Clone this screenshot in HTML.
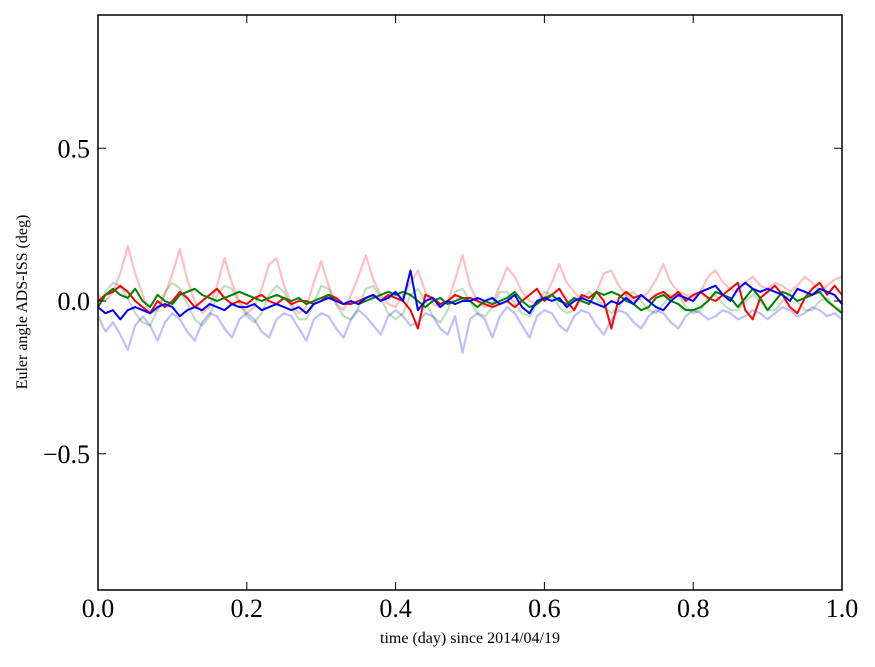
<!DOCTYPE html>
<html><head><meta charset="utf-8"><style>
body{margin:0;background:#fff;}
svg text{font-family:"Liberation Serif",serif;}
</style></head><body>
<svg id="chart" width="875" height="662">
<g id="series"></g>
<g id="axes"></g>
<text x="470" y="643" font-size="16" text-anchor="middle">time (day) since 2014/04/19</text>
<text transform="translate(27,302) rotate(-90)" font-size="16" text-anchor="middle">Euler angle ADS-ISS (deg)</text>
</svg>
<script>
const xTicks=[0,0.2,0.4,0.6,0.8,1.0];
const xTickLabels=["0.0","0.2","0.4","0.6","0.8","1.0"];
const yTicks=[0.5,0,-0.5];
const yTickLabels=["0.5","0.0","\u22120.5"];
const faintRed=[0.02,0.00,0.03,0.09,0.18,0.09,0.02,-0.04,-0.03,0.02,0.09,0.17,0.07,0.00,-0.04,-0.02,0.05,0.14,0.06,0.00,-0.04,-0.02,0.04,0.12,0.14,0.05,-0.01,-0.04,-0.02,0.06,0.13,0.05,-0.01,-0.03,0.02,0.08,0.15,0.07,0.02,-0.01,-0.02,0.02,0.06,0.10,0.03,-0.01,-0.02,0.00,0.07,0.15,0.05,0.00,-0.02,-0.01,0.05,0.11,0.08,0.03,0.00,-0.01,0.01,0.06,0.12,0.06,0.03,0.00,-0.01,0.03,0.09,0.10,0.05,0.02,0.00,0.01,0.03,0.07,0.12,0.06,0.03,0.02,0.01,0.03,0.08,0.10,0.06,0.04,0.03,0.06,0.08,0.05,0.04,0.06,0.05,0.03,0.05,0.08,0.06,0.03,0.05,0.07,0.08];
const faintGreen=[-0.02,0.03,0.06,0.05,0.01,-0.04,-0.07,-0.08,-0.03,0.03,0.06,0.04,-0.01,-0.06,-0.08,-0.05,0.02,0.05,0.04,-0.01,-0.05,-0.07,-0.04,0.02,0.05,0.03,-0.02,-0.06,-0.06,-0.01,0.05,0.04,-0.01,-0.05,-0.06,-0.02,0.04,0.05,0.01,-0.04,-0.06,-0.04,0.02,0.04,0.00,-0.05,-0.07,-0.03,0.03,0.04,0.00,-0.04,-0.05,-0.02,0.03,0.03,-0.01,-0.04,-0.05,-0.01,0.03,0.02,-0.02,-0.04,-0.03,0.01,0.03,0.01,-0.02,-0.04,-0.02,0.02,0.03,0.00,-0.03,-0.04,-0.01,0.02,0.02,-0.02,-0.04,-0.03,0.01,0.02,-0.01,-0.03,-0.03,0.00,0.02,0.00,-0.03,-0.03,0.00,0.02,0.00,-0.03,-0.03,0.00,0.01,-0.02,-0.03];
const faintBlue=[-0.05,-0.10,-0.07,-0.11,-0.16,-0.08,-0.05,-0.08,-0.13,-0.07,-0.04,-0.06,-0.10,-0.13,-0.07,-0.04,-0.05,-0.09,-0.12,-0.06,-0.04,-0.06,-0.10,-0.12,-0.06,-0.04,-0.05,-0.09,-0.13,-0.06,-0.04,-0.05,-0.09,-0.12,-0.06,-0.03,-0.05,-0.08,-0.11,-0.05,-0.03,-0.05,-0.08,-0.07,-0.04,-0.05,-0.09,-0.11,-0.05,-0.17,-0.06,-0.04,-0.06,-0.12,-0.05,-0.02,-0.04,-0.08,-0.12,-0.05,-0.03,-0.04,-0.08,-0.10,-0.05,-0.03,-0.04,-0.08,-0.11,-0.06,-0.03,-0.04,-0.07,-0.09,-0.05,-0.03,-0.04,-0.07,-0.09,-0.05,-0.03,-0.04,-0.06,-0.05,-0.03,-0.04,-0.06,-0.05,-0.03,-0.04,-0.06,-0.04,-0.02,-0.03,-0.05,-0.04,-0.02,-0.03,-0.05,-0.04,-0.06];
const redSeries=[0.00,0.02,0.03,0.05,0.03,0.00,-0.02,-0.04,0.00,-0.02,0.00,0.03,0.01,-0.02,0.00,0.02,0.04,0.01,-0.01,0.00,-0.01,0.01,0.02,0.00,-0.01,0.01,-0.01,0.00,0.00,-0.01,0.00,0.02,0.01,-0.01,-0.01,0.00,0.01,0.02,0.00,0.02,0.01,0.00,-0.03,-0.09,0.02,0.01,-0.01,0.00,0.02,0.01,0.01,0.00,-0.01,-0.02,-0.01,0.00,-0.02,0.00,0.02,0.04,0.00,0.02,0.04,0.00,-0.03,0.02,0.01,0.03,0.00,-0.09,0.01,0.03,0.01,0.02,0.00,0.02,0.03,0.01,0.03,0.00,0.02,0.03,0.01,0.00,0.02,0.04,0.06,-0.03,-0.06,0.01,0.03,0.05,0.02,-0.02,-0.04,0.01,0.04,0.06,0.02,0.05,0.02];
const greenSeries=[-0.02,0.02,0.04,0.02,0.01,0.04,0.00,-0.02,0.02,0.00,-0.01,0.02,0.03,0.04,0.02,0.01,0.00,0.01,0.02,0.03,0.02,0.01,0.00,0.01,0.02,0.01,0.00,0.01,-0.01,0.00,0.01,0.02,0.00,-0.01,0.00,-0.01,0.00,0.01,0.02,0.03,0.02,0.03,0.02,0.00,-0.02,0.00,0.01,-0.01,0.00,0.01,0.00,-0.02,0.00,-0.01,0.00,0.01,0.03,0.00,-0.02,-0.01,0.01,0.02,0.00,-0.01,0.01,0.00,-0.01,0.03,0.02,0.03,0.02,0.00,-0.01,-0.03,-0.02,0.01,0.02,0.00,-0.01,-0.03,-0.03,-0.02,0.00,0.03,0.02,0.01,-0.02,0.01,0.04,0.01,-0.03,0.00,0.03,0.02,0.00,0.01,0.02,0.03,0.00,-0.02,-0.04];
const blueSeries=[-0.02,-0.04,-0.03,-0.06,-0.03,-0.02,-0.03,-0.04,-0.02,-0.01,-0.02,-0.05,-0.03,-0.02,-0.03,-0.01,-0.02,-0.03,-0.01,-0.02,-0.02,-0.01,-0.03,-0.02,-0.01,-0.02,-0.03,-0.02,-0.04,-0.01,0.00,0.01,0.00,-0.01,0.00,-0.01,0.01,0.02,0.00,0.01,0.03,0.00,0.10,-0.03,0.00,0.01,-0.02,0.00,-0.01,0.00,0.00,0.01,0.00,0.01,-0.01,0.00,0.02,-0.02,-0.04,0.00,0.01,0.00,0.01,-0.02,0.00,0.01,0.00,-0.01,-0.02,0.00,-0.01,0.01,-0.01,0.02,0.00,-0.02,-0.03,0.00,0.02,0.01,0.00,0.03,0.04,0.05,0.02,0.00,0.04,0.06,0.04,0.03,0.04,0.03,0.02,0.00,0.04,0.03,0.02,0.04,0.03,0.02,-0.01];

const L=98,R=842,T=15,B=590;
const xs=v=>L+(R-L)*v;
const ys=v=>301-v*305.5;
const NS="http://www.w3.org/2000/svg";
const sg=document.getElementById('series');
function draw(arr,color,width,opacity,name){
  const p=document.createElementNS(NS,'path');
  let d='';
  arr.forEach((v,i)=>{d+=(i?'L':'M')+xs(i/(arr.length-1)).toFixed(2)+','+ys(v).toFixed(2);});
  p.setAttribute('d',d);p.setAttribute('fill','none');p.setAttribute('stroke',color);
  p.setAttribute('stroke-width',width);p.setAttribute('stroke-opacity',opacity);p.setAttribute('stroke-linejoin','round');
  
  
  sg.appendChild(p);
}
draw(faintRed,'#ff0000',2.2,0.25,'faint-red-line');
draw(faintGreen,'#008000',2.2,0.25,'faint-green-line');
draw(faintBlue,'#0000ff',2.2,0.25,'faint-blue-line');
draw(redSeries,'#ff0000',2,1,'red-line');
draw(greenSeries,'#008000',2,1,'green-line');
draw(blueSeries,'#0000ff',2,1,'blue-line');
const ag=document.getElementById('axes');
const fr=document.createElementNS(NS,'rect');
fr.setAttribute('x',L);fr.setAttribute('y',T);fr.setAttribute('width',R-L);fr.setAttribute('height',B-T);
fr.setAttribute('fill','none');fr.setAttribute('stroke','#000');fr.setAttribute('stroke-width','1.5');


ag.appendChild(fr);
function line(x1,y1,x2,y2,name){const l=document.createElementNS(NS,'line');l.setAttribute('x1',x1);l.setAttribute('y1',y1);l.setAttribute('x2',x2);l.setAttribute('y2',y2);l.setAttribute('stroke','#000');l.setAttribute('stroke-width','1');


ag.appendChild(l);}
function text(x,y,s,anchor,name){const t=document.createElementNS(NS,'text');t.setAttribute('x',x);t.setAttribute('y',y);t.setAttribute('font-size','26');t.setAttribute('text-anchor',anchor);t.textContent=s;


ag.appendChild(t);}
xTicks.forEach((v,i)=>{const x=xs(v);line(x,B,x,B-8,'x-tick');line(x,T,x,T+8,'x-tick-top');text(x,B+27,xTickLabels[i],'middle','x-tick-label');});
yTicks.forEach((v,i)=>{const y=ys(v);line(L,y,L+8,y,'y-tick');line(R,y,R-8,y,'y-tick-right');text(L-8,y+9,yTickLabels[i],'end','y-tick-label');});
</script>
</body></html>
